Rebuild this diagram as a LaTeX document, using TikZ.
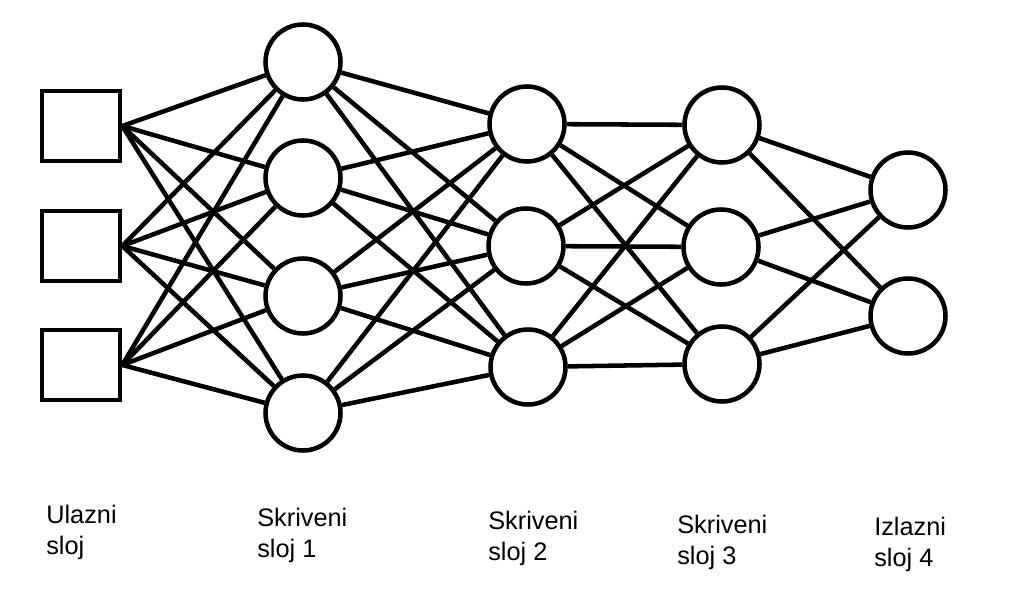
\documentclass[tikz,border=0pt]{standalone}
\usepackage{fontspec}
\setmainfont{Liberation Sans}
\usetikzlibrary{positioning}

\begin{document}
\begin{tikzpicture}[x=0.75pt, y=-0.75pt, line width=3.4pt,
              neuron/.style = {shape=circle, draw, minimum size=56.25pt, inner sep=0pt},
              inbox/.style = {shape=rectangle, draw, minimum width=58.5pt, minimum height=52.5pt, inner sep=0pt},
              layername/.style = {anchor=north west, inner sep=0pt, align=left,
                font=\fontsize{19}{23.5}\selectfont}]
  \useasboundingbox (0,0) rectangle (1013,606);

  % ulazni sloj
  \node[inbox] (in1) at (81,126) {};
  \node[inbox] (in2) at (81,246) {};
  \node[inbox] (in3) at (81,365) {};

  % skriveni slojevi
  \node[neuron] (sa1) at (303,62) {};
  \node[neuron] (sa2) at (303,178) {};
  \node[neuron] (sa3) at (303,296) {};
  \node[neuron] (sa4) at (303,413) {};

  \node[neuron] (sb1) at (527,124) {};
  \node[neuron] (sb2) at (526,246) {};
  \node[neuron] (sb3) at (528,367) {};

  \node[neuron] (sc1) at (722,125) {};
  \node[neuron] (sc2) at (721,247) {};
  \node[neuron] (sc3) at (722,364) {};

  % izlazni sloj
  \node[neuron] (out1) at (908,190) {};
  \node[neuron] (out2) at (908,316) {};

  % veze
  \foreach \i in {1,2,3}
    \foreach \j in {1,2,3,4}
      \draw (in\i.east) -- (sa\j);
  \foreach \i in {1,2,3,4}
    \foreach \j in {1,2,3}
      \draw (sa\i) -- (sb\j);
  \foreach \i in {1,2,3}
    \foreach \j in {1,2,3}
      \draw (sb\i) -- (sc\j);
  \foreach \i in {1,2,3}
    \foreach \j in {1,2}
      \draw (sc\i) -- (out\j);

  % nazivi slojeva
  \node[layername] (n0) at (44,503) {Ulazni\\sloj};
  \node[layername] (n1) at (255,506) {Skriveni\\sloj 1};
  \node[layername] (n2) at (486,509) {Skriveni\\sloj 2};
  \node[layername] (n3) at (675,513) {Skriveni\\sloj 3};
  \node[layername] (n4) at (872,515) {Izlazni\\sloj 4};
\end{tikzpicture}
\end{document}
